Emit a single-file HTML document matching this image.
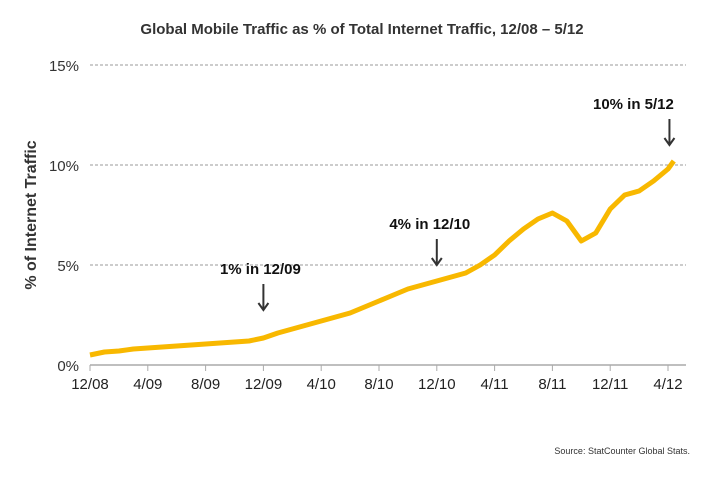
<!DOCTYPE html>
<html><head><meta charset="utf-8"><style>
body{margin:0;background:#fff;font-family:"Liberation Sans",sans-serif}
</style></head><body>
<svg width="727" height="472" viewBox="0 0 727 472" xmlns="http://www.w3.org/2000/svg">
<text x="362" y="34" text-anchor="middle" font-size="15" font-weight="bold" fill="#333">Global Mobile Traffic as % of Total Internet Traffic, 12/08 – 5/12</text>
<text transform="translate(36,215) rotate(-90)" text-anchor="middle" font-size="16" font-weight="bold" fill="#333">% of Internet Traffic</text>
<g id="grid"></g><g id="yt"></g><g id="xt"></g>
<line x1="90" y1="365" x2="686" y2="365" stroke="#aaa" stroke-width="1.5"/>
<polyline id="series" fill="none" stroke="#f8b800" stroke-width="5" stroke-linejoin="round"/>
<g id="ann"></g>
<text x="690" y="454" text-anchor="end" font-size="9" fill="#333">Source: StatCounter Global Stats.</text>
</svg>
<script>
const xLabels=["12/08","4/09","8/09","12/09","4/10","8/10","12/10","4/11","8/11","12/11","4/12"];
const yTicks=[0,5,10,15];
const months=[0,1,2,3,4,5,6,7,8,9,10,11,12,13,14,15,16,17,18,19,20,21,22,23,24,25,26,27,28,29,30,31,32,33,34,35,36,37,38,39,40,40.4];
const values=[0.5,0.65,0.7,0.8,0.85,0.9,0.95,1.0,1.05,1.1,1.15,1.2,1.35,1.6,1.8,2.0,2.2,2.4,2.6,2.9,3.2,3.5,3.8,4.0,4.2,4.4,4.6,5.0,5.5,6.2,6.8,7.3,7.6,7.2,6.2,6.6,7.8,8.5,8.7,9.2,9.8,10.2];
const notes=[{t:"1% in 12/09",m:12,v:2.75,dx:-3},{t:"4% in 12/10",m:24,v:5.0,dx:-7},{t:"10% in 5/12",m:40.1,v:11.0,dx:-36}];
const NS="http://www.w3.org/2000/svg";
const X=m=>90+m*(578/40), Y=v=>365-v*20;
function mk(tag,at,p){const e=document.createElementNS(NS,tag);for(const k in at)e.setAttribute(k,at[k]);p.appendChild(e);return e;}
const g=document.getElementById('grid'),yt=document.getElementById('yt'),xt=document.getElementById('xt'),ann=document.getElementById('ann');
yTicks.forEach(v=>{
 if(v>0){const l=mk('line',{x1:90,x2:686,y1:Y(v),y2:Y(v),stroke:'#999','stroke-dasharray':'3,2'},g);
 
 }
 const t=mk('text',{x:79,y:Y(v)+6,'text-anchor':'end','font-size':15,fill:'#333'},yt);t.textContent=v+'%';
 
 
});
xLabels.forEach((s,i)=>{
 const x=X(i*4);
 mk('line',{x1:x,x2:x,y1:365,y2:371,stroke:'#aaa'},xt);
 const t=mk('text',{x:x,y:389,'text-anchor':'middle','font-size':15,fill:'#222'},xt);t.textContent=s;
 
 
});
document.getElementById('series').setAttribute('points',values.map((v,i)=>X(months[i])+','+Y(v)).join(' '));
notes.forEach(n=>{
 const x=X(n.m),y=Y(n.v);
 const a=mk('g',{},ann);
 
 
 mk('line',{x1:x,x2:x,y1:y-26,y2:y,stroke:'#333','stroke-width':2},a);
 mk('polyline',{points:(x-5)+','+(y-7)+' '+x+','+y+' '+(x+5)+','+(y-7),fill:'none',stroke:'#333','stroke-width':2},a);
 const t=mk('text',{x:x+n.dx,y:y-36,'text-anchor':'middle','font-size':15,'font-weight':'bold',fill:'#111'},ann);
 t.textContent=n.t;
 
 
});
</script>
</body></html>
